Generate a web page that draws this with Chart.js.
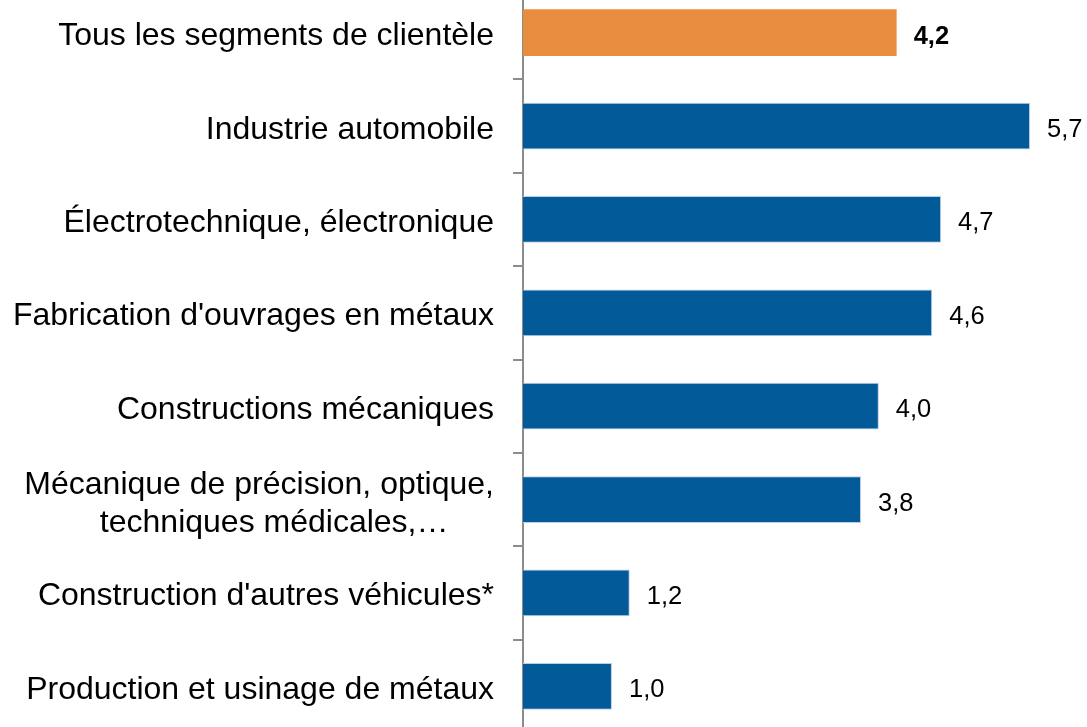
<!DOCTYPE html>
<html>
<head>
<meta charset="utf-8">
<script src="https://cdn.jsdelivr.net/npm/chart.js@4.4.0/dist/chart.umd.min.js"></script>
<style>
    html, body { margin: 0; padding: 0; background: #fff; overflow: hidden; }
    #wrap { position: absolute; left: 0; top: -14px; width: 1087px; height: 747px; }
</style>
</head>
<body>
<div id="wrap"><canvas id="segmentChart"></canvas></div>
<script>
const categories = [
    'Tous les segments de clientèle',
    'Industrie automobile',
    'Électrotechnique, électronique',
    "Fabrication d'ouvrages en métaux",
    'Constructions mécaniques',
    ['Mécanique de précision, optique,', 'techniques médicales,…'],
    "Construction d'autres véhicules*",
    'Production et usinage de métaux'
];
const values = [4.2, 5.7, 4.7, 4.6, 4.0, 3.8, 1.2, 1.0];
const valueLabels = ['4,2', '5,7', '4,7', '4,6', '4,0', '3,8', '1,2', '1,0'];

const ORANGE = '#e88d40';
const BLUE = '#035a99';
const FONT = '"Liberation Sans", Arial, sans-serif';

// category names on the left and value labels after each bar
const labelPlugin = {
    id: 'labelPlugin',
    afterDatasetsDraw(chart) {
        const ctx = chart.ctx;
        const yScale = chart.scales.y;
        const bars = chart.getDatasetMeta(0).data;
        const right = chart.chartArea.left - 29;
        ctx.save();
        ctx.fillStyle = '#000';
        ctx.textBaseline = 'alphabetic';
        categories.forEach((cat, i) => {
            const y = yScale.getPixelForValue(i);
            ctx.font = '32px ' + FONT;
            if (Array.isArray(cat)) {
                const w0 = ctx.measureText(cat[0]).width;
                ctx.textAlign = 'right';
                ctx.fillText(cat[0], right, y - 6);
                ctx.textAlign = 'center';
                ctx.fillText(cat[1], right - w0 / 2 + 15, y + 32);
            } else {
                ctx.textAlign = 'right';
                ctx.fillText(cat, right, y + 12.5);
            }
        });
        bars.forEach((bar, i) => {
            ctx.font = (i === 0 ? 'bold ' : '') + '25.5px ' + FONT;
            ctx.textAlign = 'left';
            ctx.fillText(valueLabels[i], bar.x + 17, bar.y + 11);
        });
        ctx.restore();
    }
};

const ctx = document.getElementById('segmentChart').getContext('2d');
new Chart(ctx, {
    type: 'bar',
    data: {
        labels: categories,
        datasets: [{
            data: values,
            backgroundColor: values.map((v, i) => i === 0 ? ORANGE : BLUE),
            borderColor: '#b9cfe8',
            borderWidth: values.map((v, i) => i === 0 ? 0 : 1),
            borderSkipped: 'start',
            barPercentage: 0.5,
            categoryPercentage: 1.0
        }]
    },
    options: {
        indexAxis: 'y',
        responsive: true,
        maintainAspectRatio: false,
        animation: false,
        layout: { padding: 0 },
        plugins: {
            legend: { display: false },
            tooltip: { enabled: false }
        },
        scales: {
            x: {
                display: false,
                min: 0,
                max: 6.34
            },
            y: {
                grid: {
                    offset: true,
                    drawOnChartArea: false,
                    drawTicks: true,
                    tickLength: 10,
                    color: '#8c8c8c',
                    lineWidth: 2
                },
                border: { color: '#8c8c8c', width: 2 },
                ticks: { display: false },
                afterFit(scale) {
                    scale.width = 523;
                }
            }
        }
    },
    plugins: [labelPlugin]
});
</script>
</body>
</html>
